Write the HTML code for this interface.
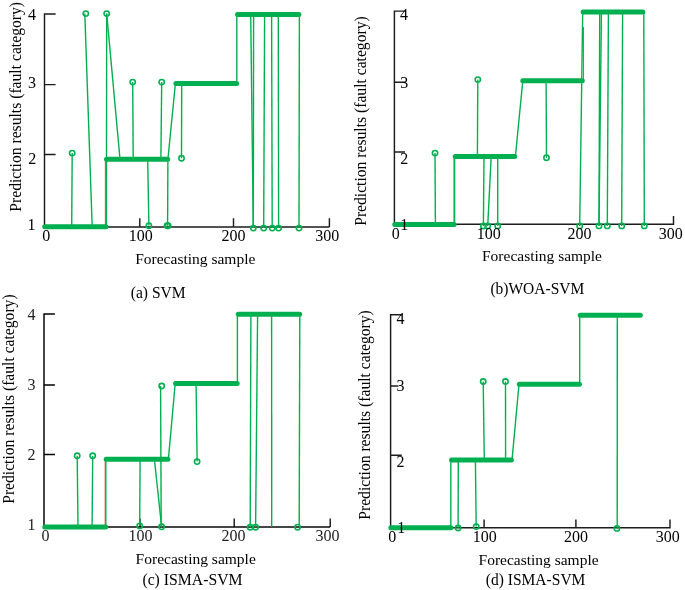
<!DOCTYPE html>
<html><head><meta charset="utf-8"><title>Prediction results</title>
<style>
html,body{margin:0;padding:0;background:#fff;}
svg{display:block;will-change:transform;font-family:"Liberation Serif", serif;}
</style></head>
<body>
<svg width="685" height="590" viewBox="0 0 685 590">
<rect width="685" height="590" fill="#fff"/>
<path d="M55.6 14 H44.5 V226.9 H329.4 M44.5 84.6 H55.6 M44.5 154.5 H55.6 M139.8 226.9 V218.3 M233.5 226.9 V218.3 M329.4 226.9 V218.3" fill="none" stroke="#1c1c1c" stroke-width="1.45"/>
<text x="195.30" y="264.4" font-size="15.6" text-anchor="middle" textLength="120.2" lengthAdjust="spacingAndGlyphs">Forecasting sample</text>
<text x="158.20" y="297.7" font-size="15.9" text-anchor="middle" textLength="55.0" lengthAdjust="spacingAndGlyphs">(a) SVM</text>
<text transform="translate(21.2,106.85) rotate(-90)" x="0" y="0" font-size="15.75" text-anchor="middle" fill="#000" textLength="209.7" lengthAdjust="spacingAndGlyphs">Prediction results (fault category)</text>
<line x1="105.4" y1="226.7" x2="105.4" y2="159.3" stroke="#e8504a" stroke-width="1.1" stroke-linecap="butt"/>
<line x1="44.7" y1="226.7" x2="106.0" y2="226.7" stroke="#00b050" stroke-width="5.0" stroke-linecap="round"/>
<line x1="106.5" y1="159.3" x2="167.7" y2="159.3" stroke="#00b050" stroke-width="5.0" stroke-linecap="round"/>
<line x1="175.9" y1="83.5" x2="236.7" y2="83.5" stroke="#00b050" stroke-width="5.0" stroke-linecap="round"/>
<line x1="237.5" y1="14.6" x2="298.9" y2="14.6" stroke="#00b050" stroke-width="5.0" stroke-linecap="round"/>
<line x1="71.7" y1="226.7" x2="72.2" y2="153.1" stroke="#00b050" stroke-width="1.4" stroke-linecap="butt"/>
<line x1="84.8" y1="13.6" x2="92.2" y2="226.7" stroke="#00b050" stroke-width="1.4" stroke-linecap="butt"/>
<line x1="106.4" y1="226.7" x2="106.7" y2="13.6" stroke="#00b050" stroke-width="1.4" stroke-linecap="butt"/>
<line x1="106.7" y1="13.6" x2="120.0" y2="159.3" stroke="#00b050" stroke-width="1.4" stroke-linecap="butt"/>
<line x1="133.2" y1="159.3" x2="132.7" y2="82.1" stroke="#00b050" stroke-width="1.4" stroke-linecap="butt"/>
<line x1="160.9" y1="159.3" x2="161.7" y2="82.1" stroke="#00b050" stroke-width="1.4" stroke-linecap="butt"/>
<line x1="147.7" y1="159.3" x2="148.9" y2="225.7" stroke="#00b050" stroke-width="1.4" stroke-linecap="butt"/>
<line x1="167.9" y1="159.3" x2="167.6" y2="225.7" stroke="#00b050" stroke-width="1.4" stroke-linecap="butt"/>
<line x1="167.9" y1="159.3" x2="175.4" y2="83.5" stroke="#00b050" stroke-width="1.4" stroke-linecap="butt"/>
<line x1="181.7" y1="83.5" x2="181.5" y2="158.2" stroke="#00b050" stroke-width="1.4" stroke-linecap="butt"/>
<line x1="236.8" y1="83.5" x2="236.8" y2="14.3" stroke="#00b050" stroke-width="1.4" stroke-linecap="butt"/>
<line x1="250.7" y1="14.3" x2="253.3" y2="228.1" stroke="#00b050" stroke-width="1.4" stroke-linecap="butt"/>
<line x1="253.6" y1="14.3" x2="253.3" y2="228.1" stroke="#00b050" stroke-width="1.4" stroke-linecap="butt"/>
<line x1="264.6" y1="14.3" x2="263.7" y2="228.1" stroke="#00b050" stroke-width="1.4" stroke-linecap="butt"/>
<line x1="271.6" y1="14.3" x2="272.2" y2="228.1" stroke="#00b050" stroke-width="1.4" stroke-linecap="butt"/>
<line x1="278.3" y1="14.3" x2="278.6" y2="228.1" stroke="#00b050" stroke-width="1.4" stroke-linecap="butt"/>
<line x1="299.4" y1="14.3" x2="299.0" y2="228.1" stroke="#00b050" stroke-width="1.4" stroke-linecap="butt"/>
<circle cx="72.2" cy="153.1" r="2.65" fill="none" stroke="#00b050" stroke-width="1.6"/>
<circle cx="85.8" cy="13.6" r="2.65" fill="none" stroke="#00b050" stroke-width="1.6"/>
<circle cx="106.7" cy="13.6" r="2.65" fill="none" stroke="#00b050" stroke-width="1.6"/>
<circle cx="132.7" cy="82.1" r="2.65" fill="none" stroke="#00b050" stroke-width="1.6"/>
<circle cx="161.7" cy="82.1" r="2.65" fill="none" stroke="#00b050" stroke-width="1.6"/>
<circle cx="148.9" cy="225.7" r="2.65" fill="none" stroke="#00b050" stroke-width="1.6"/>
<circle cx="167.1" cy="225.7" r="2.65" fill="none" stroke="#00b050" stroke-width="1.6"/>
<circle cx="168.1" cy="225.7" r="2.65" fill="none" stroke="#00b050" stroke-width="1.6"/>
<circle cx="181.5" cy="158.2" r="2.65" fill="none" stroke="#00b050" stroke-width="1.6"/>
<circle cx="253.3" cy="228.1" r="2.65" fill="none" stroke="#00b050" stroke-width="1.6"/>
<circle cx="263.7" cy="228.1" r="2.65" fill="none" stroke="#00b050" stroke-width="1.6"/>
<circle cx="272.2" cy="228.1" r="2.65" fill="none" stroke="#00b050" stroke-width="1.6"/>
<circle cx="278.6" cy="228.1" r="2.65" fill="none" stroke="#00b050" stroke-width="1.6"/>
<circle cx="299.0" cy="228.1" r="2.65" fill="none" stroke="#00b050" stroke-width="1.6"/>
<path d="M405.5 11.1 H394.4 V224.2 H673.5 V216 M394.4 82.2 H405.8 M394.4 151.9 H405.0" fill="none" stroke="#1c1c1c" stroke-width="1.45"/>
<text x="542.00" y="261.3" font-size="15.6" text-anchor="middle" textLength="120.0" lengthAdjust="spacingAndGlyphs">Forecasting sample</text>
<text x="537.35" y="294.1" font-size="15.7" text-anchor="middle" textLength="93.9" lengthAdjust="spacingAndGlyphs">(b)WOA-SVM</text>
<text transform="translate(365.6,121.05000000000001) rotate(-90)" x="0" y="0" font-size="15.75" text-anchor="middle" fill="#000" textLength="209.5" lengthAdjust="spacingAndGlyphs">Prediction results (fault category)</text>
<line x1="454.0" y1="224.4" x2="454.0" y2="156.5" stroke="#e8504a" stroke-width="1.1" stroke-linecap="butt"/>
<line x1="583.5" y1="80.7" x2="583.5" y2="27.0" stroke="#e8504a" stroke-width="1.1" stroke-linecap="butt"/>
<line x1="394.8" y1="224.4" x2="454.1" y2="224.4" stroke="#00b050" stroke-width="5.0" stroke-linecap="round"/>
<line x1="455.2" y1="156.5" x2="514.7" y2="156.5" stroke="#00b050" stroke-width="5.0" stroke-linecap="round"/>
<line x1="522.8" y1="80.7" x2="582.3" y2="80.7" stroke="#00b050" stroke-width="5.0" stroke-linecap="round"/>
<line x1="583.1" y1="11.9" x2="642.8" y2="11.9" stroke="#00b050" stroke-width="5.0" stroke-linecap="round"/>
<line x1="435.4" y1="224.4" x2="435.0" y2="153.1" stroke="#00b050" stroke-width="1.4" stroke-linecap="butt"/>
<line x1="454.6" y1="224.4" x2="454.6" y2="156.5" stroke="#00b050" stroke-width="1.4" stroke-linecap="butt"/>
<line x1="477.4" y1="156.5" x2="477.8" y2="79.6" stroke="#00b050" stroke-width="1.4" stroke-linecap="butt"/>
<line x1="484.0" y1="156.5" x2="483.4" y2="226.0" stroke="#00b050" stroke-width="1.4" stroke-linecap="butt"/>
<line x1="491.2" y1="156.5" x2="487.7" y2="226.0" stroke="#00b050" stroke-width="1.4" stroke-linecap="butt"/>
<line x1="497.7" y1="156.5" x2="497.7" y2="226.0" stroke="#00b050" stroke-width="1.4" stroke-linecap="butt"/>
<line x1="515.4" y1="156.5" x2="522.8" y2="80.7" stroke="#00b050" stroke-width="1.4" stroke-linecap="butt"/>
<line x1="546.1" y1="80.7" x2="546.5" y2="157.7" stroke="#00b050" stroke-width="1.4" stroke-linecap="butt"/>
<line x1="582.7" y1="11.9" x2="579.7" y2="225.9" stroke="#00b050" stroke-width="1.4" stroke-linecap="butt"/>
<line x1="599.7" y1="11.9" x2="599.0" y2="225.9" stroke="#00b050" stroke-width="1.4" stroke-linecap="butt"/>
<line x1="601.4" y1="11.9" x2="599.0" y2="225.9" stroke="#00b050" stroke-width="1.4" stroke-linecap="butt"/>
<line x1="608.4" y1="11.9" x2="607.3" y2="225.9" stroke="#00b050" stroke-width="1.4" stroke-linecap="butt"/>
<line x1="622.6" y1="11.9" x2="621.7" y2="225.9" stroke="#00b050" stroke-width="1.4" stroke-linecap="butt"/>
<line x1="643.8" y1="11.9" x2="644.3" y2="225.9" stroke="#00b050" stroke-width="1.4" stroke-linecap="butt"/>
<circle cx="435.0" cy="153.1" r="2.65" fill="none" stroke="#00b050" stroke-width="1.6"/>
<circle cx="477.8" cy="79.6" r="2.65" fill="none" stroke="#00b050" stroke-width="1.6"/>
<circle cx="483.4" cy="226.0" r="2.65" fill="none" stroke="#00b050" stroke-width="1.6"/>
<circle cx="487.7" cy="226.0" r="2.65" fill="none" stroke="#00b050" stroke-width="1.6"/>
<circle cx="497.7" cy="226.0" r="2.65" fill="none" stroke="#00b050" stroke-width="1.6"/>
<circle cx="546.5" cy="157.7" r="2.65" fill="none" stroke="#00b050" stroke-width="1.6"/>
<circle cx="579.7" cy="225.9" r="2.65" fill="none" stroke="#00b050" stroke-width="1.6"/>
<circle cx="599.0" cy="225.9" r="2.65" fill="none" stroke="#00b050" stroke-width="1.6"/>
<circle cx="607.3" cy="225.9" r="2.65" fill="none" stroke="#00b050" stroke-width="1.6"/>
<circle cx="621.7" cy="225.9" r="2.65" fill="none" stroke="#00b050" stroke-width="1.6"/>
<circle cx="644.3" cy="225.9" r="2.65" fill="none" stroke="#00b050" stroke-width="1.6"/>
<path d="M44.0 313.5 V527 H330.2" fill="none" stroke="#454545" stroke-width="2"/>
<path d="M43.9 314 H54.9 M43.9 385 H54.9 M43.9 454.5 H55 M140 527 V518.5 M234.2 527 V518.5 M330.2 527 V518.5" fill="none" stroke="#000" stroke-width="1.3"/>
<text x="195.70" y="564.1" font-size="15.6" text-anchor="middle" textLength="120.2" lengthAdjust="spacingAndGlyphs">Forecasting sample</text>
<text x="192.45" y="584.6" font-size="15.9" text-anchor="middle" textLength="100.1" lengthAdjust="spacingAndGlyphs">(c) ISMA-SVM</text>
<text transform="translate(13.6,399.1) rotate(-90)" x="0" y="0" font-size="15.75" text-anchor="middle" fill="#000" textLength="209.4" lengthAdjust="spacingAndGlyphs">Prediction results (fault category)</text>
<line x1="105.2" y1="526.9" x2="105.2" y2="459.3" stroke="#e8504a" stroke-width="1.1" stroke-linecap="butt"/>
<line x1="44.8" y1="527.1" x2="105.7" y2="527.1" stroke="#00b050" stroke-width="5.0" stroke-linecap="round"/>
<line x1="106.2" y1="459.3" x2="167.9" y2="459.3" stroke="#00b050" stroke-width="5.0" stroke-linecap="round"/>
<line x1="175.6" y1="383.5" x2="237.2" y2="383.5" stroke="#00b050" stroke-width="5.0" stroke-linecap="round"/>
<line x1="238.3" y1="314.3" x2="299.7" y2="314.3" stroke="#00b050" stroke-width="5.0" stroke-linecap="round"/>
<line x1="78.0" y1="526.9" x2="77.2" y2="455.8" stroke="#00b050" stroke-width="1.4" stroke-linecap="butt"/>
<line x1="92.1" y1="526.9" x2="92.7" y2="455.8" stroke="#00b050" stroke-width="1.4" stroke-linecap="butt"/>
<line x1="105.8" y1="526.9" x2="105.8" y2="459.3" stroke="#00b050" stroke-width="1.4" stroke-linecap="butt"/>
<line x1="140.1" y1="459.3" x2="139.7" y2="525.9" stroke="#00b050" stroke-width="1.4" stroke-linecap="butt"/>
<line x1="154.4" y1="459.3" x2="161.6" y2="526.8" stroke="#00b050" stroke-width="1.4" stroke-linecap="butt"/>
<line x1="161.2" y1="526.8" x2="160.6" y2="386.0" stroke="#00b050" stroke-width="1.4" stroke-linecap="butt"/>
<line x1="168.4" y1="459.3" x2="175.2" y2="383.5" stroke="#00b050" stroke-width="1.4" stroke-linecap="butt"/>
<line x1="196.1" y1="383.5" x2="197.1" y2="461.6" stroke="#00b050" stroke-width="1.4" stroke-linecap="butt"/>
<line x1="237.4" y1="383.5" x2="237.4" y2="314.3" stroke="#00b050" stroke-width="1.4" stroke-linecap="butt"/>
<line x1="250.9" y1="314.3" x2="250.2" y2="527.2" stroke="#00b050" stroke-width="1.4" stroke-linecap="butt"/>
<line x1="257.6" y1="314.3" x2="255.6" y2="527.2" stroke="#00b050" stroke-width="1.4" stroke-linecap="butt"/>
<line x1="271.6" y1="314.3" x2="271.7" y2="527.0" stroke="#00b050" stroke-width="1.4" stroke-linecap="butt"/>
<line x1="299.8" y1="314.3" x2="299.2" y2="525.0" stroke="#00b050" stroke-width="1.4" stroke-linecap="butt"/>
<circle cx="77.2" cy="455.8" r="2.65" fill="none" stroke="#00b050" stroke-width="1.6"/>
<circle cx="92.7" cy="455.8" r="2.65" fill="none" stroke="#00b050" stroke-width="1.6"/>
<circle cx="139.7" cy="525.9" r="2.65" fill="none" stroke="#00b050" stroke-width="1.6"/>
<circle cx="161.6" cy="526.8" r="2.65" fill="none" stroke="#00b050" stroke-width="1.6"/>
<circle cx="161.7" cy="386.0" r="2.65" fill="none" stroke="#00b050" stroke-width="1.6"/>
<circle cx="197.1" cy="461.6" r="2.65" fill="none" stroke="#00b050" stroke-width="1.6"/>
<circle cx="250.2" cy="527.2" r="2.65" fill="none" stroke="#00b050" stroke-width="1.6"/>
<circle cx="255.6" cy="527.2" r="2.65" fill="none" stroke="#00b050" stroke-width="1.6"/>
<circle cx="297.6" cy="527.2" r="2.65" fill="none" stroke="#00b050" stroke-width="1.6"/>
<path d="M402.5 314.8 H390.6 V527.7 H670 V519.5 M390.6 386.0 H398.4 M390.6 455.2 H401.7 M484.1 527.7 V519.5 M575.9 527.7 V519.5" fill="none" stroke="#1c1c1c" stroke-width="1.45"/>
<text x="538.60" y="564.7" font-size="15.6" text-anchor="middle" textLength="120.0" lengthAdjust="spacingAndGlyphs">Forecasting sample</text>
<text x="535.60" y="584.9" font-size="15.8" text-anchor="middle" textLength="99.6" lengthAdjust="spacingAndGlyphs">(d) ISMA-SVM</text>
<text transform="translate(369.5,414.95000000000005) rotate(-90)" x="0" y="0" font-size="15.75" text-anchor="middle" fill="#000" textLength="209.5" lengthAdjust="spacingAndGlyphs">Prediction results (fault category)</text>
<line x1="390.9" y1="527.7" x2="450.9" y2="527.7" stroke="#00b050" stroke-width="5.0" stroke-linecap="round"/>
<line x1="451.5" y1="460.1" x2="511.4" y2="460.1" stroke="#00b050" stroke-width="5.0" stroke-linecap="round"/>
<line x1="519.3" y1="384.2" x2="579.4" y2="384.2" stroke="#00b050" stroke-width="5.0" stroke-linecap="round"/>
<line x1="580.2" y1="315.3" x2="640.3" y2="315.3" stroke="#00b050" stroke-width="5.0" stroke-linecap="round"/>
<line x1="450.8" y1="527.7" x2="450.8" y2="460.1" stroke="#00b050" stroke-width="1.4" stroke-linecap="butt"/>
<line x1="458.3" y1="460.1" x2="458.1" y2="528.0" stroke="#00b050" stroke-width="1.4" stroke-linecap="butt"/>
<line x1="475.4" y1="460.1" x2="476.2" y2="526.6" stroke="#00b050" stroke-width="1.4" stroke-linecap="butt"/>
<line x1="484.3" y1="460.1" x2="483.2" y2="381.5" stroke="#00b050" stroke-width="1.4" stroke-linecap="butt"/>
<line x1="505.6" y1="460.1" x2="505.5" y2="381.5" stroke="#00b050" stroke-width="1.4" stroke-linecap="butt"/>
<line x1="512.0" y1="460.1" x2="519.0" y2="384.2" stroke="#00b050" stroke-width="1.4" stroke-linecap="butt"/>
<line x1="579.7" y1="384.2" x2="579.7" y2="315.3" stroke="#00b050" stroke-width="1.4" stroke-linecap="butt"/>
<line x1="617.3" y1="315.3" x2="617.2" y2="528.4" stroke="#00b050" stroke-width="1.4" stroke-linecap="butt"/>
<circle cx="458.1" cy="528.0" r="2.65" fill="none" stroke="#00b050" stroke-width="1.6"/>
<circle cx="476.2" cy="526.6" r="2.65" fill="none" stroke="#00b050" stroke-width="1.6"/>
<circle cx="483.2" cy="381.5" r="2.65" fill="none" stroke="#00b050" stroke-width="1.6"/>
<circle cx="505.5" cy="381.5" r="2.65" fill="none" stroke="#00b050" stroke-width="1.6"/>
<circle cx="616.9" cy="528.4" r="2.65" fill="none" stroke="#00b050" stroke-width="1.6"/>
<text x="36.0" y="19.9" font-size="16" text-anchor="end" fill="#000" >4</text>
<text x="36.0" y="88.1" font-size="16" text-anchor="end" fill="#000" >3</text>
<text x="36.3" y="163.7" font-size="16" text-anchor="end" fill="#000" >2</text>
<text x="35.6" y="229.5" font-size="16" text-anchor="end" fill="#000" >1</text>
<text x="46.2" y="241.0" font-size="16" text-anchor="middle" fill="#000" >0</text>
<text x="140.7" y="240.9" font-size="16" text-anchor="middle" fill="#000" >100</text>
<text x="233.6" y="240.7" font-size="16" text-anchor="middle" fill="#000" >200</text>
<text x="327.2" y="240.7" font-size="16" text-anchor="middle" fill="#000" >300</text>
<text x="404.1" y="19.7" font-size="16" text-anchor="middle" fill="#000" >4</text>
<text x="404.2" y="88.0" font-size="16" text-anchor="middle" fill="#000" >3</text>
<text x="404.3" y="163.9" font-size="16" text-anchor="middle" fill="#000" >2</text>
<text x="404.3" y="229.7" font-size="16" text-anchor="middle" fill="#000" >1</text>
<text x="395.7" y="238.6" font-size="16" text-anchor="middle" fill="#000" >0</text>
<text x="488.7" y="238.8" font-size="16" text-anchor="middle" fill="#000" >100</text>
<text x="579.5" y="238.6" font-size="16" text-anchor="middle" fill="#000" >200</text>
<text x="670.7" y="238.8" font-size="16" text-anchor="middle" fill="#000" >300</text>
<text x="35.4" y="319.9" font-size="16" text-anchor="end" fill="#222" >4</text>
<text x="35.4" y="390.0" font-size="16" text-anchor="end" fill="#222" >3</text>
<text x="35.6" y="460.0" font-size="16" text-anchor="end" fill="#222" >2</text>
<text x="35.6" y="529.9" font-size="16" text-anchor="end" fill="#222" >1</text>
<text x="45.6" y="541.0" font-size="16" text-anchor="middle" fill="#222" >0</text>
<text x="140.5" y="541.0" font-size="16" text-anchor="middle" fill="#222" >100</text>
<text x="233.5" y="541.4" font-size="16" text-anchor="middle" fill="#222" >200</text>
<text x="327.5" y="541.4" font-size="16" text-anchor="middle" fill="#222" >300</text>
<text x="400.6" y="323.6" font-size="16" text-anchor="middle" fill="#000" >4</text>
<text x="400.6" y="390.8" font-size="16" text-anchor="middle" fill="#000" >3</text>
<text x="400.6" y="466.8" font-size="16" text-anchor="middle" fill="#000" >2</text>
<text x="401.2" y="533.3" font-size="16" text-anchor="middle" fill="#000" >1</text>
<text x="392.3" y="541.6" font-size="16" text-anchor="middle" fill="#000" >0</text>
<text x="484.8" y="541.7" font-size="16" text-anchor="middle" fill="#000" >100</text>
<text x="575.9" y="541.7" font-size="16" text-anchor="middle" fill="#000" >200</text>
<text x="667.7" y="541.7" font-size="16" text-anchor="middle" fill="#000" >300</text>
</svg>
</body></html>
